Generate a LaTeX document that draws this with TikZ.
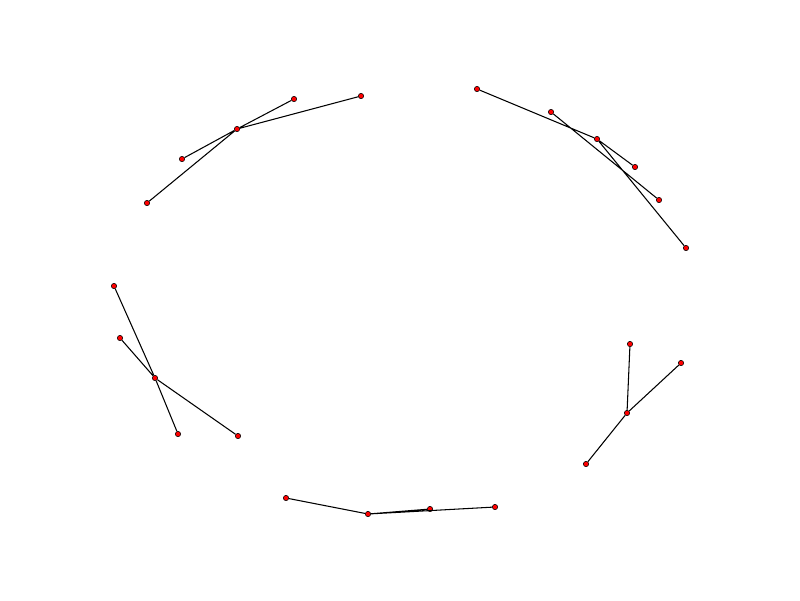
\documentclass[tikz,border=0pt]{standalone}
\usepackage{tikz}
\usetikzlibrary{positioning}

\begin{document}
\begin{tikzpicture}[x=0.025cm, y=-0.025cm, every node/.style={draw, circle, fill=red, inner sep=0pt, minimum size=3.8pt, line width=0.4pt}, edge/.style={line width=0.75pt}]
    \useasboundingbox (0,0) rectangle (800,600);
    % top left
    \node (a0) at (237,129) {};
    \node (a1) at (294,99) {};
    \node (a2) at (361,96) {};
    \node (a3) at (182,159) {};
    \node (a4) at (147,203) {};
    % top right
    \node (b0) at (597,139) {};
    \node (b1) at (477,89) {};
    \node (b2) at (635,167) {};
    \node (b3) at (686,248) {};
    \node (b4) at (551,112) {};
    \node (b5) at (659,200) {};
    % left
    \node (c0) at (155,378) {};
    \node (c1) at (114,286) {};
    \node (c2) at (120,338) {};
    \node (c3) at (178,434) {};
    \node (c4) at (238,436) {};
    % right
    \node (d0) at (627,413) {};
    \node (d1) at (630,344) {};
    \node (d2) at (681,363) {};
    \node (d3) at (586,464) {};
    % bottom
    \node (e0) at (368,514) {};
    \node (e1) at (286,498) {};
    \node (e2) at (430,509) {};
    \node (e3) at (495,507) {};
    \draw[edge] (a0) -- (a1) (a0) -- (a2) (a0) -- (a3) (a0) -- (a4);
    \draw[edge] (b0) -- (b1) (b0) -- (b2) (b0) -- (b3) (b4) -- (b5);
    \draw[edge] (c0) -- (c1) (c0) -- (c2) (c0) -- (c3) (c0) -- (c4);
    \draw[edge] (d0) -- (d1) (d0) -- (d2) (d0) -- (d3);
    \draw[edge] (e0) -- (e1) (e0) -- (e2) (e0) -- (e3);
\end{tikzpicture}
\end{document}
